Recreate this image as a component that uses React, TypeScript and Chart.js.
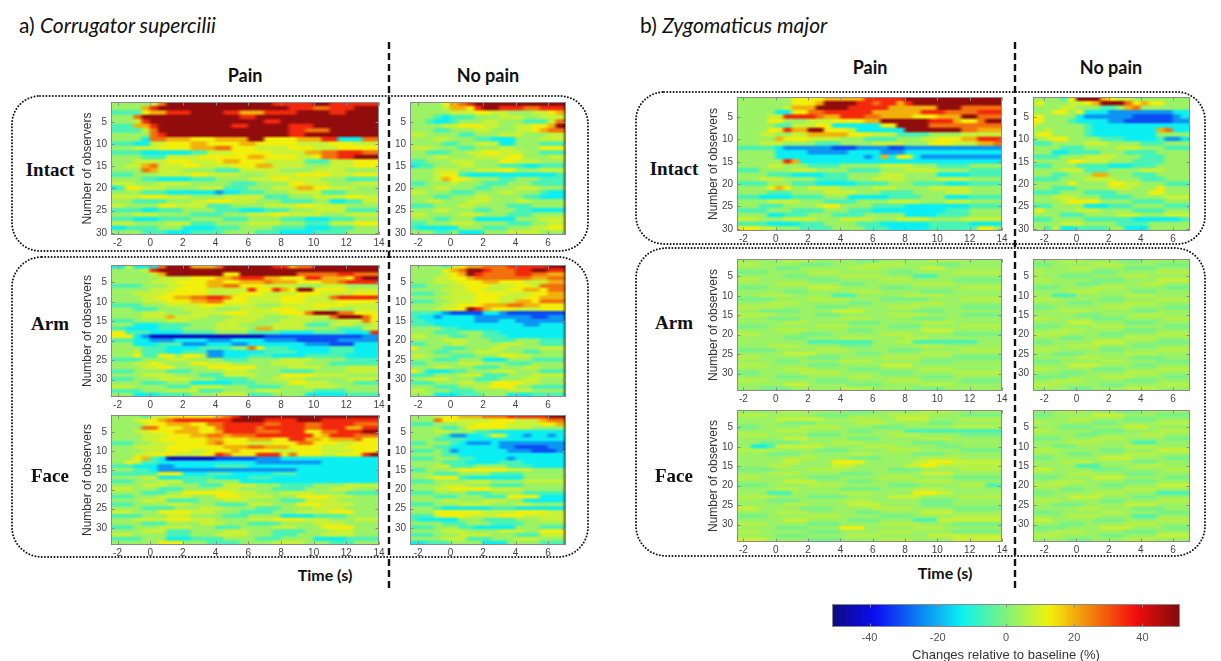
import React, { useEffect, useRef } from "react";
import { Chart, registerables } from "chart.js";
Chart.register(...registerables);

// ---------------- data ----------------
// Each row is run-length encoded: "<count><level>" per 0.5 s time bin.
const TIME_BIN = 0.5;
const PAIN_T0 = -2.5;
const NOPAIN_LEFT_T0 = -2.5;
const NOPAIN_RIGHT_T0 = -3.0;
const PAIN_X_TICKS = [-2, 0, 2, 4, 6, 8, 10, 12, 14];
const NOPAIN_X_TICKS = [-2, 0, 2, 4, 6];
const OBSERVER_TICKS = [5, 10, 15, 20, 25, 30];
const COLORBAR_TICKS = [-40, -20, 0, 20, 40];
const COLOR_MIN = -51;
const COLOR_MAX = 51;
// level code -> change relative to baseline (%)
const LEVEL_VALUES: Record<string, number> = {
  N: -44, B: -31, b: -23, c: -13, g: -6, h: -1, ".": 3, k: 6, y: 8, Y: 13, o: 20, O: 27, r: 35, R: 49,
};

const LEFT_PAIN_INTACT = [
  "5.1y1O13R5r2R6r", "4.1o1r16R3r2O3r3R", "4g1Y2o3r4R2r3o4r4R2r4R", "3.1O12R2r15R", "3.1y1r14R2r12R",
  "3g2o1r9R2r5R3r8R", "4g1y1O16R2r3O6R", "5.1O1r15R2r9R", "4.1c2O3o3Y4o2R4Y3o2r3c2O", "3g2c2y3Y2o4Y2o5Y4y3Y3y",
  "3.3y4Y3o2O3Y4y3Y3y5Y", "4g6c2g3y5Y4y2o2O3r2O", "4.3g4y6Y2o4Y2y1Y2O2r3R", "3.4y3Y3y1Y2o3Y5y3g3y3Y", "2.2y1o1O3y2Y4y3Y2o4y3.3y3Y",
  "4.1O1o3y4.3g5y4.4y4.", "3g3.4y2Y4y3.4y4Y3y3Y", "4.2g4c3g4.3y2Y4y3.4g", "3y3.4y5.3g4.2Y3y3.3y", "1c1g2Y3y4.3y3g3.3y2o2Y3y3.",
  "4.3g6c1b2c3g3.4y3g4.", "4y3Y3y4.5y3g3.4y2Y2y", "3.4g3.2y3Y3y3.4g2.2c2g2y", "2y4.2Y4y3g4.4y2Y4y4.", "4g2c3g4.3g3c3g3.4y4g",
  "3.3y4.4g3.3y2Y4y3.4y", "3g3c4g4.3g4.3g3c3g3.", "3y4.3y3g4.4y3.3g3y3Y", "2c4g3.4c3g4.4g3c3g3.", "4.3g3c4g4.3g4c4g4.",
];
const LEFT_NOPAIN_INTACT = [
  "4.1Y1o1O1r11R", "4.1y2o1Y1r2R3r2O3r", "5.3y2Y2y3.2y1Y1o", "3.1g1c1g2g3.3y2.3y", "2.1g2c1g3.2y3.3g1y1O",
  "4.2y3Y2y2.2y2Y1o1R", "3.2g3.2y3.2y1Y1o2O", "2y4.2g3.3y3.2y", "3.2y3.2g3c3.3y", "4.2g2.3y2c3.3g",
  "3y3.2g3.2y3.3Y", "2.3g2.2y2Y3y2.3g", "3.2y3.4y2Y3.2y", "2g3.3y3.2Y3y3.", "1c2g3.2y3.3g2c3g",
  "3.3y2.3y2Y3.3y", "3.1y2Y1g11c1g", "3.1y1o2Y1y3.2g3.3g", "2g3.1y3.3g3.4g", "3.2y3.2g3.3y3.",
  "2y3.3g3.2y3.1g2c", "3.2g3.2y4.2g3c", "2.2y3.3y3.2y4.", "3g3.2y4.3g4.", "3.2y3.2g3.2g4c",
  "2y4.3y3.3g4.", "3.2g3.5c3.3y", "2g3.3y4.3g2.2y", "1g5c3.3g3.2y2Y", "3.2g1.3c3.4y3.",
];
const LEFT_PAIN_ARM = [
  "2c1y3c1O3R3o1O6R2r1o2O8R", "4.1y1r27R", "5.1y1o7R2Y7R5O2r3O", "6.4y3Y2o1O3r2o3Y2r3o1Y1r2R", "5.3y4Y2o2Y3o1O3o3Y2o1O4r",
  "4g3.2y3Y2o2O3Y4y3.3y4.", "5.3y4Y5y1r2Y1r1o1Y2R4Y4y", "3.4y5Y4y3Y4y3Y4y3Y", "4.2y2Y2o2O2r1O2Y4y3Y3y1O5r", "4.3y3Y2o2O3Y4y3Y4y5Y",
  "4g3.4y3Y4y3.4y4Y4y", "3.3g3.4y3.4y3Y4y3.3y", "4.3y3.4y3Y4y3Y1O3R2O3Y", "4.3y1o4y3.4y3.5y1O3R1O1Y", "3g4.3y4.4y3.4y3.3y1O1Y",
  "3.3c4g3.3y4.4y3g3y2.1y", "2g4c3g4.4y1.2o4y4.3g2y", "2Y3g4c4g4.4g4c4g3c1r", "3Y1c1b14N12B2b", "3g2c3b4c3b4c4b5B5b",
  "3.3c3g3b3c2b4c3c3b3B3c", "4.3g4c4g2.1O1Y3g5c3g3c", "3.1y3g2c3g2b5c4g4c3g3c", "3.1Y2g2Y1.2Y1y2b3c3g4c5g4c", "4g3.3y4.3g4.4y4.4g",
  "3.2y1Y1y3.2Y3y5.4y3.6g", "4.2y2Y4.6Y4.4y3.4y", "3g4.3g4.3y4.4g4.4y", "4.4y3.3g4y3.4Y4y4.", "3g3.4y3.4g3.4y5.4y",
  "4.3g3.5c3g4.2Y3y3.3g", "3y4.3g4y3.4g3.4y5.", "4g3.4y3g4.3y4.4g4.", "3.3c4g3.4y3g4.5c4g",
];
const LEFT_NOPAIN_ARM = [
  "4.1g1y1Y2o3O5r2R", "4.1Y1o1O2R1r3O2r2R2r", "4.1y1Y1o1R1r4O2r2O2o", "3.2y2Y1o7O2o2O", "3.3y3Y2o3Y3y2o",
  "2g3.2y3Y3y2Y1y3O", "4.3y2Y3y2Y2o1Y2O", "3g2.3y4Y3y2Y2o", "4.4y3Y3y2Y3o", "3g2.3y3Y2y2o1Y3O",
  "4.2y3Y3o2O2o3Y", "3.2y2Y1R1r1o3Y3y3Y", "3g1c1b4B2c1b7B", "1g2c1b4c2b5b2B2b", "2g6c3b2c6b",
  "3g11c2b3c", "4.2g13c", "3.3g3.2g8c", "2y3.2g2.3g7c", "4.3y3.3g3.3g",
  "2g3.2y4.3y2.3g", "1Y3.3g3.2y4.3y", "3.2g3.3y3.2g3.", "2y3.3g3.2Y2y4.", "3.3g3.3c3.4g",
  "2g4.3y3.3g4.", "3.2y3.3g3.2y3.", "1Y1.3c2g3.3y3.3g", "3g3.3y3g3.4y", "2.3y3.3g3.2y3.",
  "3g3.2y2.4Y2y3.", "3.3g2.2y3Y2.4g", "2y3.3g4.3y4.", "3.3c3g3.3c4g",
];
const LEFT_PAIN_FACE = [
  "4.1g2y6Y1o1O1r17R", "3.1y2Y1o1O7r4R4r3R7r", "4.1y2Y3o2Y2O5r2O3r2O4r3O", "4.2O3Y2o2Y1O4r1O5r2O3r2o2r", "3.2y3Y3o2Y1o4r3O3r2Y2O3r2R",
  "4.3y3Y2o2O1o3O4r3r1Y1o3r3O", "4.2y3Y3Y2o3Y3o2Y2r2o1Y3o1O2Y", "3g2.3y4Y1o1O3Y3y3Y2O3Y2y3Y", "3.2y2y4Y3Y3o2O3o4Y3y4Y", "4.3y3Y2y3Y1o4Y3y3Y4y3Y",
  "3.2y3Y3y2Y1r1O3Y3r1Y1O3Y2y3Y1r1R", "3.1Y1o1g1c6N5B3b12c", "2.1Y1y2g12c8b7c", "3g3c2b5c4g16c", "3.2g1c17b10c",
  "6g3Y3c3g5c3g10c", "4.2y3c4g4c3g13c", "3g3.3y3g4.17c", "4.3y4.3g4y3.4g4.4y", "3y3.3g4.3y4.4g3.3y3.",
  "4.3g2.6Y3y3.4y4.4g", "3g3.4y3.3Y4y3.4Y3y3.", "4.3y4g3.3y4.3g4y5.", "3g4.3y3.4g3y3.3Y4y3.", "4.4g3.3y4.3g4.4y4.",
  "3y3.4Y3y3.4g3.4y3Y3.", "4g3.3y4.3g4.4c4g4.", "3.4y3Y3y4.3y4Y3y3.3y", "4.3g4.3y3.4g4.4y4.", "3g3.4y3.3g4.3y3.4Y3.",
  "4.3y3g4.3y3.4g3.3y3.", "3y4.3g3.4y3.3g3.4y3.", "4g3.3c4g4.3g4.4c4g", "6.3Y3.4g4.4y3.3g3.",
];
const LEFT_NOPAIN_FACE = [
  "3.1y2Y3o3O5r2R", "3.1O2Y4y3Y3y1o2O", "3g3.2y4Y4y2Y1o", "4.2g1.5Y3y4.", "3.2y3.2g9c",
  "4.1g2b2c1g1Y1y2c1b2c1b1c", "3.4g12c", "2g3.1g1c3b1c8b", "3.2g6c2b4B2b", "3g1.1g1b6c3b3B1b",
  "4.2g13c", "3g3.2g4c1b6c", "4.3g4c3g5c", "3.2y3g4.3g4c", "2g3.1y6Y3y4.",
  "3.3g4.4g5.", "2.1y3Y1g7c5.", "3g4.3y4.5y", "4.3y3.4g5.", "3.2y5Y4y5.",
  "3g4.3g4.5g", "3.3g3.3g4Y3c", "4.2y3.3y2.5c", "3g3.4y3.2y4.", "3.1g6c3g6c",
  "3.6Y4y4Y2y", "3g1y3Y4y3Y5y", "1g5c3.4g3.3y", "4.3g3.4g5.", "3g3.2g5c3.3g",
  "4.3y4.3y2.3Y", "3g3.4y3.3g3y", "4.3y3g3.3y3.", "2c3g4.3c4.3g",
];
const RIGHT_PAIN_INTACT = [
  "7.4Y5o5r12R", "7.3Y1o4R2r1O2r1o1r11R", "6.1y3o4R5r6o3R5O", "5.2c2Y2O6r6o3r4O3r", "4.2y1r3r1O2o3r2O4o3Y3o2R3O",
  "4.2Y3.3y4Y2o6R3r1o2Y1O2R", "5.2g3y2Y6c2Y4R9O", "4.2Y1r2o2R3Y1y6c7R2O3o", "3.2y2.2y5o3Y3y4g4.5y", "5.1o3Y4y3.4g3.2y3Y2o3r",
  "3.3y4.3g4.4y3.3Y3y2o1O", "5g1c6b3B4b2B12b", "5.4c5b4c3b12c", "5.11c1b1c1o1c2Y1c10b", "6.1r1o25c",
  "4.2y3.4g5.4y3.4g4.", "3g4.3y4.4g3.4y4.4g", "4.3g4c3g4.3y4.4c4g", "3.3y4.4g3.4y4.4y4.", "4g3.3g5c4g3.4g3c4g",
  "4.1Y1o1Y2.4y4.3y4.5y4.", "4.3g4.4y3.4g4.3y4.", "3g4c4g3.5c4g3.3c4g", "4.4y3.4g4.4y3.3y4.", "3.3g4.1y2Y4.4g8c4g",
  "4g3.4g3.3g9c3g4.", "4.2c3g3.4g5.4c4g4.", "3y3.4y3.4y3.4y4.5y", "4g4c3g4.3g6c5g4c", "3Y2y3.4g4.3g5c6g2Y1.",
];
const RIGHT_NOPAIN_INTACT = [
  "4.1g1Y3R1o1Y2y7.", "1.1Y3.2y1Y1o3R1O1Y1o2Y3.", "4.2y3.2g1.1o1O6.", "3.2Y1.1Y3c8b2c", "2Y4.1c2b4b5B1b1c",
  "1Y1Y3.1g4c2b6B2b", "1Y6.1g12c", "2.1y4.1g8c1o1O2c", "1.2Y4.1g8c4.", "2.1y2Y4.3g4c1g2b1c",
  "3g4.3y4.3g3.", "4.3g4.3y3.3g", "3.2c4g3.4g4.", "4g3.4y3.3g3.", "5.2Y3y3.4g3.",
  "3g3.4g3c3g4.", "4.3y3g4.3y3.", "3.2g3.2o3.3g4.", "4g3.4y3.3g3.", "5.1Y4.2Y2y3.3g",
  "3.3g4.3y3.1Y3.", "4g3.4g4.2Y3.", "3.3y3.4g4.3y", "4.1y4Y4.4g3.", "3g4.3c3g4.3g",
  "1.1Y4.3y4.4g3.", "4.3g4.3y3.3y", "3g4.6g6c1g", "4.3y4.4g5.", "2.1g1y2c4g2.3c5.",
];
const RIGHT_PAIN_ARM = [
  "6.4k5.3h6.4k5.", "3k5.4h4.5k4.3h5.", "5.3h6.4k5.3y7.", "4h5.4k6.3h5.6k", "6.3h4.5k4.3g8.",
  "3k6.4h5.4k5.6h", "5.4k4.3h6.5k6.", "4h5.4y5.4h6.5k", "6.3h5.4k5.4h6.", "3.4k5.3g6.5k7.",
  "5h4.5k4.6h4.5k", "4.4k6.3h5.4k7.", "6k4.4h5.4k5.5h", "3.5h4.4y6.4h7.", "5k5.3h6.5k4.5h",
  "4.4h5.4k5.4h7.", "6.3k5.4h5.4k6.", "4h6.4k5.4h5.5k", "5.4k5.3h6.4y6.", "3k5.4h6.4k5.6h",
  "6.3h4.4k4.3k4.5.", "9.8g3.2k8g3.", "4.4k5.4h5.4k7.", "5h5.4k5.4h5.5k", "6.4y5.3h5.4k6.",
  "3k6.4h5.5k4.6h", "5.3h5.4k6.4h6.", "4k5.4h5.4y5.6.", "6.4k4.4h5.4k6.", "3h5.5k5.4h5.6k",
  "5.4h5.3k6.4h6.", "4k6.4h5.4k5.5h", "6.3y5.4h5.4k6.", "3.4h6.4k5.4h7.",
];
const RIGHT_NOPAIN_ARM = [
  "4.3k4.3h6.", "3h5.4k4.4h", "5.3k4.4h4.", "2k6.3h5.4k", "4.4h4.3k5.",
  "3k5.4h4.4y", "6.3h5.3k3.", "4h4.4k5.3h", "5.4k4.3h4.", "3.3g6.4k4.",
  "4k5.3h4.4k", "5.3h4.4k4.", "3h6.4k4.3h", "4.4k5.3h4.", "6.3h4.4k3.",
  "3k5.4h5.3k", "5.3y4.4h4.", "4h4.4k5.3h", "3.4k5.4h4.", "5k4.3h4.4k",
  "4.3h5.4k4.", "3h5.4y4.4h", "5.4k4.3h4.", "4k5.3h4.4k", "3.4h5.4k4.",
  "6.3k4.4h3.", "4h5.3k4.4h", "5.4y4.3h4.", "3k5.4h4.4k", "4.3h5.4k4.",
  "5h4.4k4.3h", "3.4k5.4h4.", "4k5.3h4.4k", "5.3h4.4k4.",
];
const RIGHT_PAIN_FACE = [
  "5.4k5.3h6.4k6.", "4k6.4h5.5k4.5h", "5.6y3.4k2.4y4.5k", "6.4h5.4k5.3h6.", "3h5.5k4.4h6.6k",
  "5.4k5.3h4.12g", "4k5.4h6.4k5.5h", "6.3y5.4h5.4k6.", "3.5h4.4k6.4h7.", "2.2c1g6y5.4k5.3h5.",
  "5k5.4h5.4k5.5h", "4.4h6.3k5.4h7.", "6.4k4.4h5.5k5.", "6.2y4.4Y6.2y3Y6y", "4.3k5.3y6.2y2Y8k",
  "5h4.5k5.4h5.5k", "4.4k5.4h6.4y6.", "3k6.4h5.4k5.6h", "6.4y4.3h5.5k6.", "4h5.4k6.4h5.3k2g",
  "5.3k5.5h4.4k7.", "4.3g6.4k5.3Y2y6.", "5k4.5h5.4y5.5k", "4.4h5.4k6.4h6.", "6.3k5.4y5.4h6.",
  "3y5.4h5.5k5.6h", "5.4k6.3h5.4y6.", "4h5.4k5.4h5.6k", "6.3y5.4h4.3g8y", "4k5.4h5.5k4.6h",
  "5.4h4.3Y6.4k7.", "3k6.4h5.4k5.6h", "5.4h5.4k6.9y", "4y5.4h5.4k5.6y",
];
const RIGHT_NOPAIN_FACE = [
  "4.3k4.3h6.", "3h5.4y4.4h", "5.3k4.4h4.", "2k6.3h5.4k", "4.4h4.3y5.",
  "3k5.4h4.4k", "6.3h5.3k3.", "4h4.4k5.3h", "5.4k4.3g4.", "3.3h6.4k4.",
  "4k5.3h4.4y", "5.3h4.4k4.", "3h6.4y4.3h", "4.4k5.3h4.", "6.3g4.4k3.",
  "3y5.4h5.3k", "5.3k4.4h4.", "4h4.4y5.3h", "3.4k5.4h4.", "5k4.3h4.4y",
  "4.3h5.4k4.", "3h5.4k4.4g", "5.4y4.3h4.", "4k5.3h4.4k", "3.4h5.4y4.",
  "6.3k4.4h3.", "4h5.3k4.4h", "5.4k4.3g4.", "3y5.4h4.4k", "4.3h5.4k4.",
  "5h4.4y4.3h", "3.4k5.4h4.", "4k5.3h4.4y", "5.3h4.4k4.",
];

// ---------------- helpers ----------------
const SANS = "'Liberation Sans', Arial, sans-serif";

function clamp01(x: number) {
  return Math.max(0, Math.min(1, x));
}
function jet(v: number) {
  const t = clamp01((v - COLOR_MIN) / (COLOR_MAX - COLOR_MIN));
  const r = clamp01(1.5 - Math.abs(4 * t - 3));
  const g = clamp01(1.5 - Math.abs(4 * t - 2));
  const b = clamp01(1.5 - Math.abs(4 * t - 1));
  const f = (c: number) => Math.round(c * 255 * 0.9 + 12);
  return `rgb(${f(r)},${f(g)},${f(b)})`;
}

function buildCells(rows: string[], t0: number) {
  const cells: { x: number[]; y: number; v: number }[] = [];
  rows.forEach((row, i) => {
    let col = 0;
    const re = /(\d+)(\D)/g;
    let m: RegExpExecArray | null;
    while ((m = re.exec(row))) {
      const n = parseInt(m[1], 10);
      cells.push({ x: [t0 + col * TIME_BIN, t0 + (col + n) * TIME_BIN], y: i + 1, v: LEVEL_VALUES[m[2]] ?? 0 });
      col += n;
    }
  });
  return cells;
}

// separable box blur on RGB channels (edges clamped)
function boxBlur(d: Uint8ClampedArray, w: number, h: number, rx: number, ry: number) {
  const tmp = new Float32Array(d.length);
  for (let y = 0; y < h; y++) {
    for (let x = 0; x < w; x++) {
      for (let c = 0; c < 3; c++) {
        let s = 0;
        for (let k = -rx; k <= rx; k++) {
          const xk = Math.min(w - 1, Math.max(0, x + k));
          s += d[(y * w + xk) * 4 + c];
        }
        tmp[(y * w + x) * 4 + c] = s / (2 * rx + 1);
      }
    }
  }
  for (let y = 0; y < h; y++) {
    for (let x = 0; x < w; x++) {
      for (let c = 0; c < 3; c++) {
        let s = 0;
        for (let k = -ry; k <= ry; k++) {
          const yk = Math.min(h - 1, Math.max(0, y + k));
          s += tmp[(yk * w + x) * 4 + c];
        }
        d[(y * w + x) * 4 + c] = s / (2 * ry + 1);
      }
      d[(y * w + x) * 4 + 3] = 255;
    }
  }
}

// smoothing of the drawn cells (the original figure is interpolated)
const softenPlugin = {
  id: "soften",
  afterDatasetsDraw(chart: any) {
    const { ctx, chartArea: a } = chart;
    const dpr = chart.currentDevicePixelRatio || 1;
    const x = Math.round(a.left * dpr);
    const y = Math.round(a.top * dpr);
    const w = Math.round(a.right * dpr) - x;
    const h = Math.round(a.bottom * dpr) - y;
    if (w <= 2 || h <= 2) return;
    ctx.save();
    ctx.setTransform(1, 0, 0, 1, 0, 0);
    const img = ctx.getImageData(x, y, w, h);
    boxBlur(img.data, w, h, 2, 1);
    boxBlur(img.data, w, h, 1, 0);
    ctx.putImageData(img, x, y);
    ctx.restore();
  },
};

const boxPlugin = {
  id: "axisBox",
  afterDatasetsDraw(chart: any) {
    const { ctx, chartArea: a, scales } = chart;
    ctx.save();
    ctx.strokeStyle = "#8a8a8a";
    ctx.lineWidth = 1;
    const l = Math.round(a.left) + 0.5;
    const t = Math.round(a.top) + 0.5;
    const r = Math.round(a.right) - 0.5;
    const b = Math.round(a.bottom) - 0.5;
    ctx.strokeRect(l, t, r - l, b - t);
    ctx.beginPath();
    const xs = scales.x;
    for (const tk of xs.ticks) {
      const px = Math.round(xs.getPixelForValue(tk.value)) + 0.5;
      ctx.moveTo(px, b);
      ctx.lineTo(px, b - 3);
      ctx.moveTo(px, t);
      ctx.lineTo(px, t + 3);
    }
    const ys = scales.y;
    if (ys && ys.options.display) {
      for (const tk of ys.ticks) {
        const py = Math.round(ys.getPixelForValue(tk.value)) + 0.5;
        ctx.moveTo(l, py);
        ctx.lineTo(l + 3, py);
        ctx.moveTo(r, py);
        ctx.lineTo(r - 3, py);
      }
    }
    ctx.stroke();
    ctx.restore();
  },
};

type HeatProps = {
  rows: string[];
  t0: number;
  xMin: number;
  xMax: number;
  xTicks: number[];
  nRows: number;
  left: number;
  top: number;
  w: number;
  h: number;
  yTitle: boolean;
};

function Heatmap(p: HeatProps) {
  const ref = useRef<HTMLCanvasElement>(null);
  const YW = p.yTitle ? 31 : 22;
  const PT = 6;
  const PR = 9;
  const XH = 16;
  const cw = YW + p.w + PR;
  const ch = PT + p.h + XH;
  useEffect(() => {
    const cells = buildCells(p.rows, p.t0);
    const chart = new Chart(ref.current as HTMLCanvasElement, {
      type: "bar",
      data: {
        datasets: [
          {
            data: cells as any,
            backgroundColor: (c: any) => jet(c.raw ? c.raw.v : 0),
            borderWidth: 0,
            barPercentage: 1,
            categoryPercentage: 1,
            inflateAmount: 0.5,
            clip: 0,
          } as any,
        ],
      },
      options: {
        indexAxis: "y",
        animation: false,
        responsive: false,
        maintainAspectRatio: false,
        events: [],
        layout: { padding: { left: 0, top: PT, right: PR, bottom: 0 } },
        plugins: { legend: { display: false }, tooltip: { enabled: false }, title: { display: false } },
        scales: {
          x: {
            type: "linear",
            position: "bottom",
            min: p.xMin,
            max: p.xMax,
            offset: false,
            beginAtZero: false,
            grid: { display: false, drawTicks: false },
            border: { display: false },
            ticks: { font: { family: SANS, size: 10 }, color: "#444", padding: 2, maxRotation: 0, autoSkip: false },
            afterBuildTicks: (s: any) => {
              s.ticks = p.xTicks.map((v) => ({ value: v }));
            },
            afterFit: (s: any) => {
              s.height = XH;
              s.paddingLeft = 0;
              s.paddingRight = 0;
            },
          },
          y: {
            type: "linear",
            position: "left",
            reverse: true,
            min: 0.5,
            max: p.nRows + 0.5,
            offset: false,
            grid: { display: false, drawTicks: false },
            border: { display: false },
            ticks: { font: { family: SANS, size: 10 }, color: "#444", padding: 4, autoSkip: false },
            title: {
              display: p.yTitle,
              text: "Number of observers",
              color: "#333",
              font: { family: SANS, size: 12 },
              padding: 0,
            },
            afterBuildTicks: (s: any) => {
              s.ticks = OBSERVER_TICKS.map((v) => ({ value: v }));
            },
            afterFit: (s: any) => {
              s.width = YW;
              s.paddingTop = 0;
              s.paddingBottom = 0;
            },
          },
        },
      } as any,
      plugins: [softenPlugin, boxPlugin],
    });
    return () => chart.destroy();
  }, []);
  return (
    <canvas
      ref={ref}
      width={cw}
      height={ch}
      style={{ position: "absolute", left: p.left - YW, top: p.top - PT, width: cw, height: ch }}
    />
  );
}

function ColorBar() {
  const ref = useRef<HTMLCanvasElement>(null);
  const L = 832, T = 604, W = 348, H = 23;
  const PL = 12, PR = 12, PT = 4, XH = 36;
  const cw = PL + W + PR;
  const ch = PT + H + XH;
  useEffect(() => {
    const steps = 64;
    const span = (COLOR_MAX - COLOR_MIN) / steps;
    const cells = [];
    for (let i = 0; i < steps; i++) {
      const a = COLOR_MIN + i * span;
      cells.push({ x: [a, a + span], y: 1, v: a + span / 2 });
    }
    const chart = new Chart(ref.current as HTMLCanvasElement, {
      type: "bar",
      data: {
        datasets: [
          {
            data: cells as any,
            backgroundColor: (c: any) => jet(c.raw ? c.raw.v : 0),
            borderWidth: 0,
            barPercentage: 1,
            categoryPercentage: 1,
            inflateAmount: 0.5,
            clip: 0,
          } as any,
        ],
      },
      options: {
        indexAxis: "y",
        animation: false,
        responsive: false,
        maintainAspectRatio: false,
        events: [],
        layout: { padding: { left: PL, top: PT, right: PR, bottom: 0 } },
        plugins: { legend: { display: false }, tooltip: { enabled: false } },
        scales: {
          x: {
            type: "linear",
            position: "bottom",
            min: COLOR_MIN,
            max: COLOR_MAX,
            grid: { display: false, drawTicks: false },
            border: { display: false },
            ticks: { font: { family: SANS, size: 11 }, color: "#555", padding: 4, maxRotation: 0, autoSkip: false },
            title: {
              display: true,
              text: "Changes relative to baseline (%)",
              color: "#333",
              font: { family: SANS, size: 13 },
              padding: 0,
            },
            afterBuildTicks: (s: any) => {
              s.ticks = COLORBAR_TICKS.map((v) => ({ value: v }));
            },
            afterFit: (s: any) => {
              s.height = XH;
              s.paddingLeft = 0;
              s.paddingRight = 0;
            },
          },
          y: {
            type: "linear",
            display: false,
            min: 0.5,
            max: 1.5,
            afterBuildTicks: (s: any) => {
              s.ticks = [];
            },
          },
        },
      } as any,
      plugins: [softenPlugin, boxPlugin],
    });
    return () => chart.destroy();
  }, []);
  return (
    <canvas
      ref={ref}
      width={cw}
      height={ch}
      style={{ position: "absolute", left: L - PL, top: T - PT, width: cw, height: ch }}
    />
  );
}

function Txt(props: { x: number; y: number; align?: "center" | "left"; style?: React.CSSProperties; children: React.ReactNode }) {
  const { x, y, align = "center", style, children } = props;
  return (
    <div
      style={{
        position: "absolute",
        left: x,
        top: y,
        transform: align === "center" ? "translate(-50%,-50%)" : "translate(0,-50%)",
        whiteSpace: "nowrap",
        lineHeight: 1,
        color: "#111",
        ...style,
      }}
    >
      {children}
    </div>
  );
}

const PANELS: HeatProps[] = [
  { rows: LEFT_PAIN_INTACT, t0: PAIN_T0, xMin: -2.4, xMax: 14, xTicks: PAIN_X_TICKS, nRows: 30, left: 111, top: 102, w: 268, h: 133, yTitle: true },
  { rows: LEFT_NOPAIN_INTACT, t0: NOPAIN_LEFT_T0, xMin: -2.5, xMax: 7.1, xTicks: NOPAIN_X_TICKS, nRows: 30, left: 410, top: 102, w: 156, h: 133, yTitle: false },
  { rows: LEFT_PAIN_ARM, t0: PAIN_T0, xMin: -2.4, xMax: 14, xTicks: PAIN_X_TICKS, nRows: 34, left: 111, top: 265, w: 268, h: 132, yTitle: true },
  { rows: LEFT_NOPAIN_ARM, t0: NOPAIN_LEFT_T0, xMin: -2.5, xMax: 7.1, xTicks: NOPAIN_X_TICKS, nRows: 34, left: 410, top: 265, w: 156, h: 132, yTitle: false },
  { rows: LEFT_PAIN_FACE, t0: PAIN_T0, xMin: -2.4, xMax: 14, xTicks: PAIN_X_TICKS, nRows: 34, left: 111, top: 415, w: 268, h: 130, yTitle: true },
  { rows: LEFT_NOPAIN_FACE, t0: NOPAIN_LEFT_T0, xMin: -2.5, xMax: 7.1, xTicks: NOPAIN_X_TICKS, nRows: 34, left: 410, top: 415, w: 156, h: 130, yTitle: false },
  { rows: RIGHT_PAIN_INTACT, t0: PAIN_T0, xMin: -2.4, xMax: 14, xTicks: PAIN_X_TICKS, nRows: 30, left: 737, top: 97, w: 265, h: 134, yTitle: true },
  { rows: RIGHT_NOPAIN_INTACT, t0: NOPAIN_RIGHT_T0, xMin: -2.7, xMax: 7.05, xTicks: NOPAIN_X_TICKS, nRows: 30, left: 1033, top: 97, w: 157, h: 134, yTitle: false },
  { rows: RIGHT_PAIN_ARM, t0: PAIN_T0, xMin: -2.4, xMax: 14, xTicks: PAIN_X_TICKS, nRows: 34, left: 737, top: 259, w: 265, h: 132, yTitle: true },
  { rows: RIGHT_NOPAIN_ARM, t0: NOPAIN_RIGHT_T0, xMin: -2.7, xMax: 7.05, xTicks: NOPAIN_X_TICKS, nRows: 34, left: 1033, top: 259, w: 157, h: 132, yTitle: false },
  { rows: RIGHT_PAIN_FACE, t0: PAIN_T0, xMin: -2.4, xMax: 14, xTicks: PAIN_X_TICKS, nRows: 34, left: 737, top: 410, w: 265, h: 132, yTitle: true },
  { rows: RIGHT_NOPAIN_FACE, t0: NOPAIN_RIGHT_T0, xMin: -2.7, xMax: 7.05, xTicks: NOPAIN_X_TICKS, nRows: 34, left: 1033, top: 410, w: 157, h: 132, yTitle: false },
];

export default function App() {
  const dot = { fill: "none", stroke: "#111", strokeWidth: 2, strokeDasharray: "0 3.2", strokeLinecap: "round" as const };
  const dash = { stroke: "#111", strokeWidth: 2.4, strokeDasharray: "7 4" };
  const head = { fontFamily: "Lato, 'Open Sans', sans-serif", fontWeight: 700, fontSize: 18 };
  const rowLab = { fontFamily: "'Liberation Serif', 'Times New Roman', serif", fontWeight: 700, fontSize: 19 };
  const titleStyle = { fontFamily: "Lato, 'Open Sans', sans-serif", fontSize: 21 };
  return (
    <div style={{ position: "absolute", left: 0, top: 0, width: 1221, height: 661, background: "#fff", overflow: "hidden" }}>
      <svg width={1221} height={661} style={{ position: "absolute", left: 0, top: 0 }}>
        <rect x={12} y={96} width={576} height={155} rx={28} ry={28} {...dot} />
        <rect x={12} y={257} width={576} height={300} rx={30} ry={30} {...dot} />
        <rect x={636} y={92} width={569} height={152} rx={28} ry={28} {...dot} />
        <rect x={636} y={248} width={569} height={308} rx={30} ry={30} {...dot} />
        <line x1={389} y1={42} x2={389} y2={590} {...dash} />
        <line x1={1015} y1={42} x2={1015} y2={590} {...dash} />
      </svg>
      {PANELS.map((p, i) => (
        <Heatmap key={i} {...p} />
      ))}
      <ColorBar />
      <Txt x={19} y={24} align="left" style={titleStyle}>
        a) <i>Corrugator supercilii</i>
      </Txt>
      <Txt x={640} y={24} align="left" style={titleStyle}>
        b) <i>Zygomaticus major</i>
      </Txt>
      <Txt x={245} y={75} style={head}>Pain</Txt>
      <Txt x={488} y={75} style={head}>No pain</Txt>
      <Txt x={870} y={67} style={head}>Pain</Txt>
      <Txt x={1111} y={67} style={head}>No pain</Txt>
      <Txt x={50} y={169} style={rowLab}>Intact</Txt>
      <Txt x={50} y={323} style={rowLab}>Arm</Txt>
      <Txt x={50} y={475} style={rowLab}>Face</Txt>
      <Txt x={674} y={168} style={rowLab}>Intact</Txt>
      <Txt x={674} y={322} style={rowLab}>Arm</Txt>
      <Txt x={674} y={475} style={rowLab}>Face</Txt>
      <Txt x={325} y={575} style={{ ...head, fontSize: 16 }}>Time (s)</Txt>
      <Txt x={945} y={573} style={{ ...head, fontSize: 16 }}>Time (s)</Txt>
    </div>
  );
}
